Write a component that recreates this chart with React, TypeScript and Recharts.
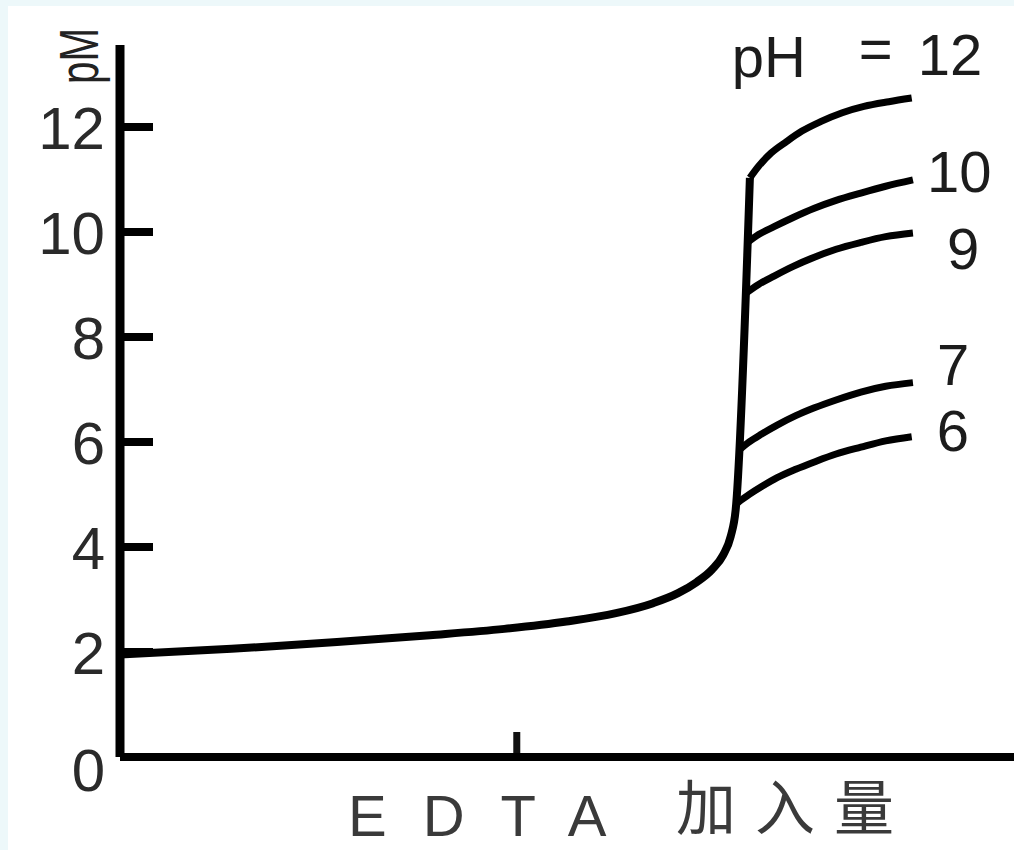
import { LineChart, Line, XAxis, YAxis, LabelList } from 'recharts';

// pM axis ticks and the one small mark on the EDTA axis
const yTicks = [0, 2, 4, 6, 8, 10, 12];
const xMarks = [64];

// x = EDTA added (equivalence at ~100), pM
const baseCurve = [
  { x: 0, pM: 1.95 },
  { x: 18, pM: 2.06 },
  { x: 35, pM: 2.19 },
  { x: 50, pM: 2.32 },
  { x: 62, pM: 2.44 },
  { x: 72, pM: 2.58 },
  { x: 80, pM: 2.74 },
  { x: 86, pM: 2.93 },
  { x: 90, pM: 3.12 },
  { x: 93, pM: 3.33 },
  { x: 95.5, pM: 3.57 },
  { x: 97.3, pM: 3.85 },
  { x: 98.5, pM: 4.2 },
  { x: 99.3, pM: 4.7 },
  { x: 101.6, pM: 11.03 },
];

const pH12 = [
  { x: 101.6, pM: 11.03 },
  { x: 103, pM: 11.25 },
  { x: 105, pM: 11.5 },
  { x: 107.5, pM: 11.72 },
  { x: 110, pM: 11.92 },
  { x: 113, pM: 12.1 },
  { x: 116.5, pM: 12.27 },
  { x: 120, pM: 12.39 },
  { x: 124, pM: 12.48 },
  { x: 127.7, pM: 12.55 },
];

const pH10 = [
  { x: 101.2, pM: 9.8 },
  { x: 103, pM: 9.95 },
  { x: 105.5, pM: 10.1 },
  { x: 108.5, pM: 10.27 },
  { x: 112, pM: 10.45 },
  { x: 115.5, pM: 10.6 },
  { x: 119.5, pM: 10.74 },
  { x: 123.5, pM: 10.87 },
  { x: 127.9, pM: 10.99 },
];

const pH9 = [
  { x: 100.9, pM: 8.83 },
  { x: 103, pM: 9.0 },
  { x: 105.5, pM: 9.16 },
  { x: 108.5, pM: 9.34 },
  { x: 112, pM: 9.52 },
  { x: 115.5, pM: 9.67 },
  { x: 119.5, pM: 9.8 },
  { x: 123.5, pM: 9.91 },
  { x: 127.9, pM: 9.98 },
];

const pH7 = [
  { x: 99.9, pM: 5.85 },
  { x: 101.5, pM: 6.0 },
  { x: 103.5, pM: 6.15 },
  { x: 106, pM: 6.32 },
  { x: 109, pM: 6.5 },
  { x: 112, pM: 6.65 },
  { x: 115.5, pM: 6.8 },
  { x: 119.5, pM: 6.95 },
  { x: 123.5, pM: 7.06 },
  { x: 127.9, pM: 7.13 },
];

const pH6 = [
  { x: 99.7, pM: 4.85 },
  { x: 101.5, pM: 5.0 },
  { x: 103.5, pM: 5.15 },
  { x: 106, pM: 5.32 },
  { x: 109, pM: 5.48 },
  { x: 112, pM: 5.62 },
  { x: 115.5, pM: 5.77 },
  { x: 119.5, pM: 5.9 },
  { x: 123.5, pM: 6.02 },
  { x: 127.7, pM: 6.1 },
];

const branchNames = ['12', '10', '9', '7', '6'];
const branchData = [pH12, pH10, pH9, pH7, pH6];

// label offsets from the end of each branch
const labelOffset: Record<string, [number, number]> = {
  '12': [6, -23],
  '10': [14, 12],
  '9': [34, 36],
  '7': [24, 2],
  '6': [25, 14],
};

const FONT = '"Liberation Sans", Arial, sans-serif';

const YTick = (props: any) => {
  const { x, y, payload } = props;
  const v = payload.value;
  return (
    <g>
      {v !== 0 && <line x1={x} x2={x + 33} y1={y} y2={y} stroke="#000" strokeWidth={8} />}
      <text
        x={x - 15}
        y={y + (v === 0 ? 34 : 22)}
        textAnchor="end"
        fontSize={60}
        fontFamily={FONT}
        fill="#2a2a2a"
      >
        {v}
      </text>
    </g>
  );
};

const XTick = (props: any) => {
  const { x, y } = props;
  return <line x1={x} x2={x} y1={y - 4} y2={y - 25} stroke="#111" strokeWidth={7} />;
};

const Titles = () => (
  <g>
    <text
      transform="rotate(-90 98 56)"
      x={98}
      y={56}
      textAnchor="middle"
      fontSize={56}
      fontFamily={FONT}
      textLength={56}
      lengthAdjust="spacingAndGlyphs"
      fill="#222"
    >
      pM
    </text>
    <text x={348} y={836} fontSize={58} fontFamily={FONT} letterSpacing={36} fill="#3a3a3a">
      EDTA
    </text>
    <text x={676} y={830} fontSize={60} fontFamily='"Noto Sans CJK SC", sans-serif' letterSpacing={19} fill="#3a3a3a">
      加入量
    </text>
  </g>
);

const makeEndLabel = (name: string, count: number) => (props: any) => {
  const { index } = props;
  if (index !== count - 1) return null;
  const vb = props.viewBox || {};
  const px = vb.x ?? props.x;
  const py = vb.y ?? props.y;
  const [dx, dy] = labelOffset[name];
  const common = { fontSize: 58, fontFamily: FONT, fill: '#1c1c1c' };
  if (name === '12') {
    return (
      <g>
        <text x={px - 180} y={py + dy + 2} {...common}>pH</text>
        <text x={px - 53} y={py + dy - 6} {...common}>=</text>
        <text x={px + dx} y={py + dy} {...common}>12</text>
      </g>
    );
  }
  return (
    <text x={px + dx} y={py + dy} {...common}>
      {name}
    </text>
  );
};

export default function App() {
  return (
    <div style={{ position: 'absolute', left: 0, top: 0, width: 1014, height: 850, background: '#edf8fa' }}>
      <div style={{ position: 'absolute', left: 8, top: 6, right: 0, bottom: 0, background: '#fff' }} />
      <div style={{ position: 'absolute', left: 0, top: 0 }}>
        <LineChart width={1014} height={850} margin={{ top: 45, right: 0, bottom: 33, left: 0 }}>
          <XAxis
            type="number"
            dataKey="x"
            domain={[0, 144.2]}
            ticks={xMarks}
            tick={<XTick />}
            tickLine={false}
            tickSize={0}
            tickMargin={0}
            height={60}
            axisLine={{ stroke: '#000', strokeWidth: 8 }}
            label={<Titles />}
            allowDataOverflow
          />
          <YAxis
            type="number"
            dataKey="pM"
            domain={[0, 13.56]}
            ticks={yTicks}
            tick={<YTick />}
            tickLine={false}
            tickSize={0}
            tickMargin={0}
            width={120}
            axisLine={{ stroke: '#000', strokeWidth: 9 }}
            allowDataOverflow
          />
          <Line
            data={baseCurve}
            dataKey="pM"
            type="monotone"
            stroke="#000"
            strokeWidth={8}
            strokeLinejoin="round"
            dot={false}
            isAnimationActive={false}
          />
          {branchData.map((d, i) => (
            <Line
              key={branchNames[i]}
              data={d}
              dataKey="pM"
              type="monotone"
              stroke="#000"
              strokeWidth={7}
              strokeLinejoin="round"
              dot={false}
              isAnimationActive={false}
            >
              <LabelList dataKey="pM" content={makeEndLabel(branchNames[i], d.length)} />
            </Line>
          ))}
        </LineChart>
      </div>
    </div>
  );
}
